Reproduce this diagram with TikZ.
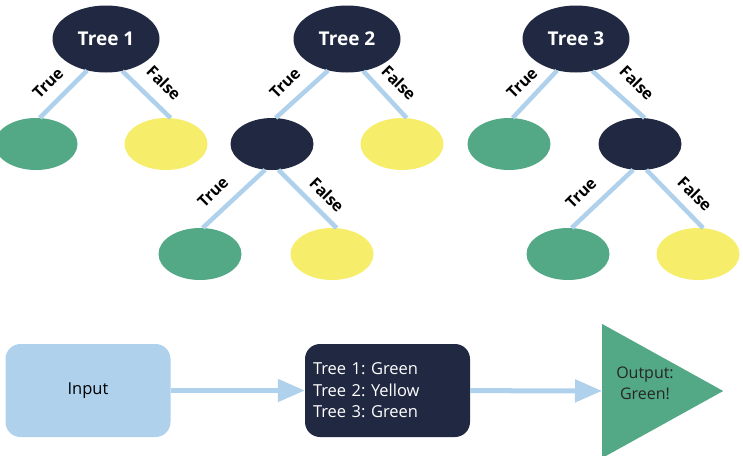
\documentclass[tikz,border=0pt]{standalone}
\usepackage{fontspec}
\setmainfont{Open Sans}
\usetikzlibrary{shapes.geometric}
\usetikzlibrary{arrows.meta}
\definecolor{navy}{HTML}{212842}
\definecolor{leafgreen}{HTML}{53A886}
\definecolor{leafyellow}{HTML}{F6EE6B}
\definecolor{paleblue}{HTML}{AFD1EC}
\frenchspacing

\begin{document}
\begin{tikzpicture}[x=1pt,y=-1pt,
	answer/.style={
		font=\fontsize{16}{16}\selectfont\bfseries,
		text=black,inner sep=0pt
	}]
	%\draw[help lines,step=20] (0,0) grid (743,455);
	\useasboundingbox (0,0) rectangle (743,455);
	\tikzstyle{root} = [ellipse,fill=navy,text=white,minimum width=107pt,minimum height=67pt,inner sep=0pt,font=\fontsize{19}{19}\selectfont\bfseries]
	\tikzstyle{leaf} = [ellipse,minimum width=83pt,minimum height=52pt,inner sep=0pt]
	\tikzstyle{branch} = [draw=paleblue,line width=4.5pt]
	\tikzstyle{edge} = [-{Triangle[width=22pt,length=27pt]},draw=paleblue,line width=5pt]
	\tikzstyle{box} = [rounded corners=15pt,minimum width=165pt,minimum height=93pt,inner sep=0pt,font=\fontsize{16.5}{21.5}\selectfont]

	% tree 1
	\node[root] (t1) at (106,39) {Tree 1};
	\node[leaf,fill=leafgreen] (t1a) at (36,144) {};
	\node[leaf,fill=leafyellow] (t1b) at (166,144) {};
	\draw (t1.239) edge [branch] (t1a.82);
	\draw (t1.297) edge [branch] (t1b.80);
	\node[answer,rotate=45] (t1yes) at (48,83) {True};
	\node[answer,rotate=-45] (t1no) at (164,83) {False};

	% tree 2
	\node[root] (t2) at (347,39) {Tree 2};
	\node[leaf,fill=navy] (t2a) at (272,144) {};
	\node[leaf,fill=leafyellow] (t2b) at (402,144) {};
	\node[leaf,fill=leafgreen] (t2aa) at (200,254) {};
	\node[leaf,fill=leafyellow] (t2ab) at (332,254) {};
	\draw (t2.239) edge [branch] (t2a.82);
	\draw (t2.297) edge [branch] (t2b.80);
	\draw (t2a.255) edge [branch] (t2aa.84);
	\draw (t2a.284) edge [branch] (t2ab.80);
	\node[answer,rotate=45] (t2yes) at (285,83) {True};
	\node[answer,rotate=-45] (t2no) at (399,83) {False};
	\node[answer,rotate=45] (t2ayes) at (213,192) {True};
	\node[answer,rotate=-45] (t2ano) at (327,195) {False};

	% tree 3
	\node[root] (t3) at (576,39) {Tree 3};
	\node[leaf,fill=leafgreen] (t3a) at (509,144) {};
	\node[leaf,fill=navy] (t3b) at (640,144) {};
	\node[leaf,fill=leafgreen] (t3ba) at (568,254) {};
	\node[leaf,fill=leafyellow] (t3bb) at (698,254) {};
	\draw (t3.239) edge [branch] (t3a.82);
	\draw (t3.297) edge [branch] (t3b.80);
	\draw (t3b.255) edge [branch] (t3ba.82);
	\draw (t3b.284) edge [branch] (t3bb.79);
	\node[answer,rotate=45] (t3yes) at (522,83) {True};
	\node[answer,rotate=-45] (t3no) at (637,83) {False};
	\node[answer,rotate=45] (t3byes) at (581,193) {True};
	\node[answer,rotate=-45] (t3bno) at (695,194) {False};

	% voting
	\node[box,fill=paleblue] (input) at (88,390.5) {Input};
	\node[box,fill=navy,text=white,align=left,text width=149pt,inner xsep=8pt] (votes) at (387.5,390.5) {Tree 1: Green\\Tree 2: Yellow\\Tree 3: Green};
	\node[isosceles triangle,isosceles triangle stretches,fill=leafgreen,minimum width=134pt,minimum height=121pt,inner sep=0pt,anchor=lower side] (output) at (602,391) {};
	\node[align=center,text=black!85,font=\fontsize{16}{21}\selectfont] (outtext) at (645,383) {Output:\\Green!};

	\draw (input) edge [edge] (votes);
	\draw (votes) edge [edge] (output);
\end{tikzpicture}
\end{document}
